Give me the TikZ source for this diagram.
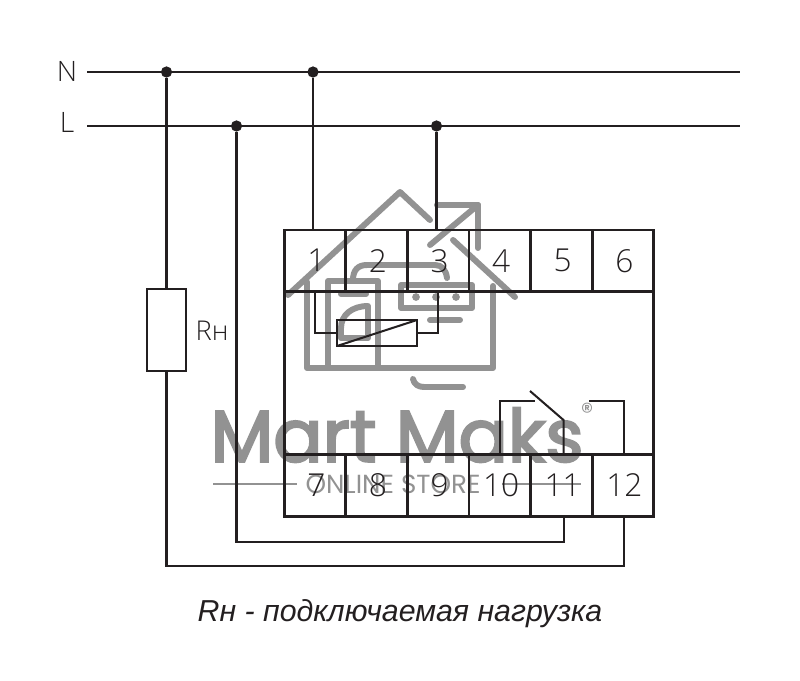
\documentclass[tikz,border=0pt]{standalone}
\usepackage{fontspec}
\setmainfont{Liberation Sans}
\newfontfamily\markfont{Poppins}
\newfontfamily\brandfont[FakeBold=3]{Poppins}
\newfontfamily\digitfont{Open Sans Light}
\usetikzlibrary{positioning}
\definecolor{wire}{HTML}{231F20}
\definecolor{logogrey}{HTML}{929292}
\tikzset{
  busline/.style={line width=1.15pt, wire},
  device/.style={line width=1.45pt, wire},
  terminal/.style={draw=wire, line width=1.45pt, outer sep=0pt, minimum width=35pt, minimum height=35pt, inner sep=0pt, text=wire, font=\digitfont\fontsize{18}{18}\selectfont},
  joint/.style={circle, fill=wire, inner sep=0pt, minimum size=6.4pt},
  logo/.style={line width=3.4pt, logogrey, line cap=round, line join=round},
}
\begin{document}
\begin{tikzpicture}[x=0.02cm, y=-0.02cm]
\useasboundingbox (0, 0) rectangle (800, 680);

%watermark
\begin{scope}
  \draw[logo] (288, 295) -- (400, 192) -- (430, 220);
  \draw[logo] (453, 240) -- (515, 297);
  \draw[logo] (430, 245) -- (478, 205);
  \draw[logo] (437, 205) -- (478, 205) -- (478, 248);
  \draw[logo] (307, 282) -- (307, 368) -- (493, 368) -- (493, 286);
  \draw[logo] (328, 368) -- (328, 281) -- (378, 281) -- (378, 368);
  \draw[logo] (341, 294) -- (366, 294);
  \draw[logo] (341, 338) -- (341, 328) .. controls (341, 315) and (352, 306) .. (368, 306) -- (368, 338) -- cycle;
  \draw[logo] (353, 280) .. controls (353, 270) and (358, 265) .. (367, 265) -- (435, 265) .. controls (442, 265) and (446, 270) .. (447, 278);
  \draw[logo] (401, 285) rectangle (472, 308);
  \foreach \i in {416, 436, 456} {
    \fill[logogrey] (\i, 297) circle (2.2pt);
  }
  \draw[logo] (430, 320) -- (460, 320);
  \draw[logo] (413, 379) .. controls (414, 384) and (418, 387) .. (424, 387) -- (463, 387);
  \node[logogrey, font=\brandfont\fontsize{41.5}{42}\selectfont, inner sep=0pt] (brand) at (397, 435) {Mart Maks};
  \node[logogrey, font=\markfont\fontsize{14}{14}\selectfont, inner sep=0pt] (regmark) at (587, 412) {®};
  \node[logogrey, font=\markfont\fontsize{14.9}{16}\selectfont, inner sep=0pt] (store) at (393, 484) {ONLINE STORE};
  \draw[logogrey, line width=0.9pt] (213, 484) -- (297, 484);
  \draw[logogrey, line width=0.9pt] (502, 484) -- (581, 484);
\end{scope}

%terminals
\foreach \i in {1,2,...,6} {
  \node[terminal] (t\i) at (315+61.6*\i-61.6, 260.7) {\hspace*{1.5pt}\i};
  \pgfmathtruncatemacro{\j}{\i+6}
  \node[terminal] (t\j) at (315+61.6*\i-61.6, 485.5) {\hspace*{1.5pt}\j};
}
\draw[device] (t1.north west) -- (t7.north west);
\draw[device] (t6.north east) -- (t12.north east);

%relay coil
\node[draw=wire, line width=1.15pt, outer sep=0pt, minimum width=45.5pt, minimum height=14.8pt, inner sep=0pt] (coil) at (377, 333) {};
\draw[busline] (coil.south west) -- (coil.north east);
\coordinate (coilA) at (315, 333);
\coordinate (coilB) at (438, 333);
\draw[busline] (coil.west) -- (coilA) -- (coilA |- t1.south);
\draw[busline] (coil.east) -- (coilB) -- (coilB |- t3.south);

%contact
\coordinate (cLeft) at (500, 400.5);
\coordinate (cOpen) at (535, 400.5);
\coordinate (cTip) at (530, 391);
\coordinate (cHinge) at (563.5, 420);
\coordinate (cRight) at (589, 400.5);
\coordinate (cEnd) at (624, 400.5);
\draw[busline] (cLeft |- t10.north) -- (cLeft) -- (cOpen);
\draw[busline] (cHinge |- t11.north) -- (cHinge) -- (cTip);
\draw[busline] (cRight) -- (cEnd) -- (cEnd |- t12.north);

%supply
\node[wire, font=\digitfont\fontsize{16}{16}\selectfont] (labN) at (67, 71) {N};
\node[wire, font=\digitfont\fontsize{16}{16}\selectfont] (labL) at (67, 122) {L};
\coordinate (endN) at (740, 72);
\coordinate (endL) at (740, 126);
\coordinate (startN) at (87, 72);
\coordinate (startL) at (87, 126);
\draw[busline] (startN) -- (endN);
\draw[busline] (startL) -- (endL);
\node[joint] (jN1) at (166.5, 72) {};
\node[joint] (jN2) at (313, 72) {};
\node[joint] (jL1) at (236.5, 126) {};
\node[joint] (jL2) at (436.5, 126) {};
\draw[busline] (jN2) -- (jN2 |- t1.north);
\draw[busline] (jL2) -- (jL2 |- t3.north);

%load
\node[draw=wire, line width=1.15pt, outer sep=0pt, minimum width=22pt, minimum height=47pt, inner sep=0pt] (load) at (166.5, 330) {};
\node[wire, font=\digitfont\fontsize{15.5}{16}\selectfont, inner sep=0pt] (loadlab) at (212, 331) {Rн};
\coordinate (c11) at (563.5, 541.5);
\coordinate (c12) at (623.5, 565.5);
\draw[busline] (jN1) -- (load.north);
\draw[busline] (load.south) -- (load.south |- c12) -- (c12) -- (c12 |- t12.south);
\draw[busline] (jL1) -- (jL1 |- c11) -- (c11) -- (c11 |- t11.south);

\node[wire, font=\fontsize{17.25}{18}\selectfont\itshape, inner sep=0pt] (caption) at (400, 614) {Rн - подключаемая нагрузка};
\end{tikzpicture}
\end{document}
